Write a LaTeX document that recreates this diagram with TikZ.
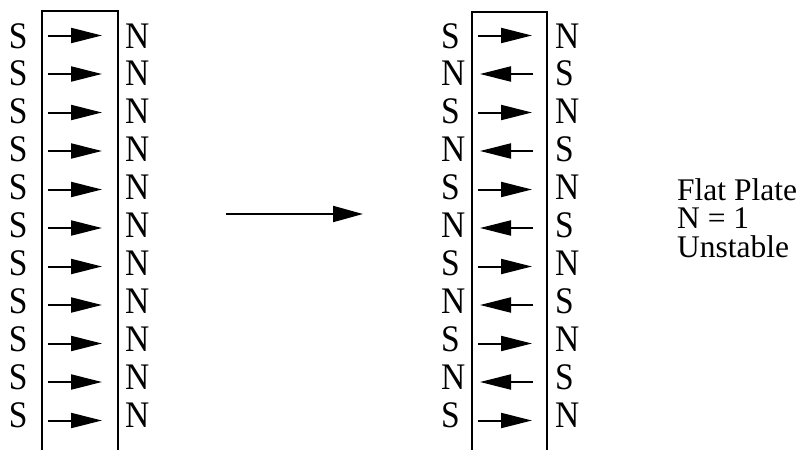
\documentclass[tikz,border=0pt]{standalone}
\usepackage{fontspec}
\setmainfont{Liberation Serif}
\usetikzlibrary{arrows.meta}
\tikzset{
  pole/.style={inner sep=0pt, outer sep=0pt, anchor=base west,
    font=\fontsize{33.5}{33.5}\selectfont},
  moment/.style={line width=2pt, -{Triangle[length=31pt,width=15pt]}},
  plate/.style={line width=2pt},
  caption/.style={inner sep=0pt, anchor=base west, text height=0.69em, text depth=0pt,
    font=\fontsize{31.5}{31.5}\selectfont},
  bigarrow/.style={line width=2pt, -{Triangle[length=30pt,width=16pt]}}
}
\newcommand{\pl}[1]{\scalebox{1}[1.12]{#1}}
\begin{document}
\begin{tikzpicture}[x=1pt,y=-1pt]
\useasboundingbox (0,0) rectangle (802,450);
% left plate
\draw[plate] (42,450) -- (42,11) -- (118,11) -- (118,450);
% right plate
\draw[plate] (472,450) -- (472,12) -- (547,12) -- (547,450);
\foreach \i in {0,...,10}{
  \pgfmathsetmacro{\yb}{48+37.9*\i}
  \pgfmathsetmacro{\ya}{35.5+38.5*\i}
  % left diagram
  \node[pole] (lS\i) at (9,\yb) {\pl{S}};
  \node[pole] (lN\i) at (125,\yb) {\pl{N}};
  \coordinate (la\i) at (48,\ya);
  \coordinate (lb\i) at (102,\ya);
  \draw[moment] (la\i) -- (lb\i);
  % right diagram
  \pgfmathtruncatemacro{\odd}{mod(\i,2)}
  \ifnum\odd=0
    \node[pole] (rL\i) at (441,\yb) {\pl{S}};
    \node[pole] (rR\i) at (555,\yb) {\pl{N}};
    \coordinate (ra\i) at (478,\ya);
    \coordinate (rb\i) at (532,\ya);
  \else
    \node[pole] (rL\i) at (441,\yb) {\pl{N}};
    \node[pole] (rR\i) at (555,\yb) {\pl{S}};
    \coordinate (ra\i) at (533,\ya);
    \coordinate (rb\i) at (480,\ya);
  \fi
  \draw[moment] (ra\i) -- (rb\i);
}
% middle arrow
\coordinate (m1) at (226,214);
\coordinate (m2) at (363,214);
\draw[bigarrow] (m1) -- (m2);
% caption
\node[caption] (t1) at (677,200) {Flat Plate};
\node[caption] (t2) at (677,228.5) {N = 1};
\node[caption] (t3) at (677,257.5) {Unstable};
\end{tikzpicture}
\end{document}
